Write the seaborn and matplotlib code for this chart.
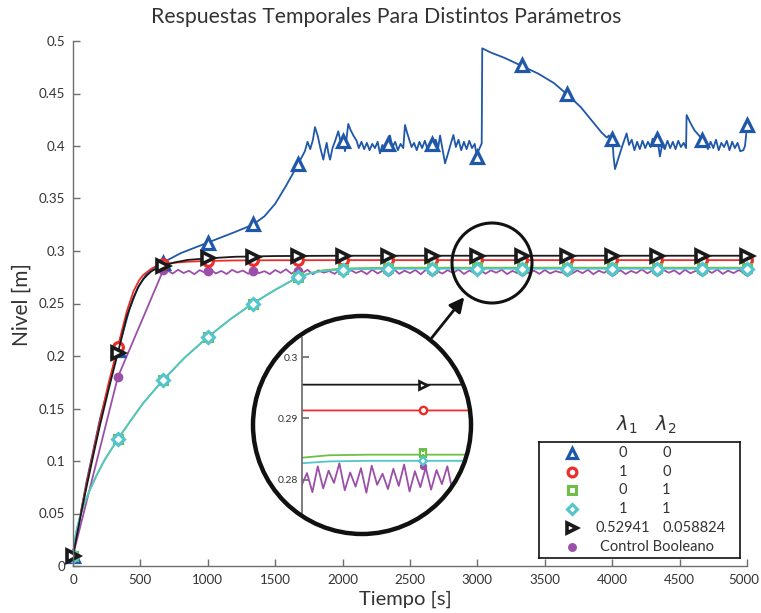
import numpy as np
import pandas as pd
import matplotlib
matplotlib.use("Agg")
from matplotlib import pyplot as plt
from matplotlib.patches import Circle, FancyArrowPatch
from matplotlib.transforms import ScaledTranslation
import seaborn as sns

# marker sample times (every 1000/3 s)
t_mark = [0, 333.3, 666.7, 1000, 1333.3, 1666.7, 2000, 2333.3, 2666.7, 3000,
          3333.3, 3666.7, 4000, 4333.3, 4666.7, 5000]

# lambda1=0, lambda2=0 (blue)
t_blue = [0, 50, 100, 200, 333, 420, 480, 550, 620, 667, 800, 1000, 1200, 1333, 1420, 1500,
          1580, 1667, 1720, 1740, 1760, 1780, 1795, 1815, 1835, 1857, 1870, 1882, 1895, 1907,
          1925, 1945, 1968, 1985, 2000, 2018, 2042, 2060, 2080, 2104, 2120, 2140, 2160, 2180,
          2200, 2220, 2240, 2260, 2277, 2295, 2315, 2335, 2351, 2370, 2390, 2410, 2430, 2450,
          2463, 2480, 2500, 2512, 2530, 2550, 2570, 2590, 2610, 2630, 2650, 2670, 2690, 2710,
          2723, 2740, 2760, 2780, 2800, 2822, 2840, 2860, 2880, 2900, 2920, 2940, 2960, 2980,
          2995, 3010, 3032, 3036, 3100, 3200, 3333, 3450, 3567, 3667, 3767, 3850, 3920, 3960,
          3975, 3990, 4000, 4010, 4021, 4050, 4080, 4107, 4125, 4145, 4165, 4185, 4205, 4225,
          4245, 4265, 4285, 4300, 4320, 4333, 4354, 4370, 4390, 4410, 4430, 4450, 4470, 4490,
          4510, 4530, 4548, 4552, 4580, 4610, 4651, 4670, 4690, 4710, 4730, 4750, 4770, 4790,
          4810, 4830, 4850, 4870, 4890, 4910, 4930, 4950, 4973, 4985, 5000]
v_blue = [0.01, 0.045, 0.08, 0.14, 0.205, 0.245, 0.265, 0.279, 0.286, 0.289, 0.298, 0.308, 0.318, 0.325, 0.333, 0.345,
          0.362, 0.382, 0.395, 0.404, 0.397, 0.406, 0.418, 0.41, 0.398, 0.387, 0.396, 0.403, 0.393, 0.387,
          0.398, 0.405, 0.414, 0.404, 0.408, 0.395, 0.421, 0.415, 0.41, 0.405, 0.398, 0.404, 0.397, 0.403,
          0.396, 0.402, 0.398, 0.404, 0.393, 0.401, 0.397, 0.405, 0.41, 0.399, 0.404, 0.396, 0.402, 0.398,
          0.42, 0.412, 0.404, 0.399, 0.403, 0.396, 0.404, 0.398, 0.405, 0.397, 0.403, 0.398, 0.406, 0.399,
          0.41, 0.398, 0.3835, 0.392, 0.401, 0.4105, 0.399, 0.406, 0.396, 0.404, 0.397, 0.405, 0.398, 0.402,
          0.391, 0.396, 0.4025, 0.493, 0.489, 0.484, 0.476, 0.469, 0.46, 0.449, 0.437, 0.424, 0.413, 0.408,
          0.41, 0.404, 0.409, 0.39, 0.378, 0.39, 0.402, 0.412, 0.401, 0.406, 0.396, 0.404, 0.397, 0.405,
          0.398, 0.404, 0.399, 0.407, 0.401, 0.409, 0.39, 0.401, 0.397, 0.405, 0.398, 0.404, 0.397, 0.405,
          0.399, 0.403, 0.398, 0.4295, 0.422, 0.415, 0.409, 0.399, 0.405, 0.397, 0.404, 0.398, 0.406, 0.396,
          0.403, 0.399, 0.405, 0.396, 0.404, 0.398, 0.403, 0.395, 0.396, 0.4, 0.418]
m_blue = [0.01, 0.206, 0.289, 0.308, 0.326, 0.383, 0.405, 0.402, 0.402, 0.390,
          0.477, 0.450, 0.407, 0.407, 0.406, 0.420]

# red (1, 0) and black (0.52941, 0.058824)
t_fast = [0, 30, 60, 100, 150, 200, 260, 333, 400, 450, 490, 520, 550, 580, 620, 667,
          750, 850, 1000, 1200, 1500, 2000, 5000]
v_red = [0.01, 0.032, 0.052, 0.078, 0.108, 0.138, 0.172, 0.209, 0.243, 0.262, 0.272, 0.277,
         0.280, 0.283, 0.2855, 0.2872, 0.2888, 0.2898, 0.2905, 0.291, 0.2912, 0.2913, 0.2913]
v_black = [0.01, 0.03, 0.05, 0.075, 0.105, 0.134, 0.166, 0.203, 0.238, 0.256, 0.267, 0.273,
           0.277, 0.2805, 0.2835, 0.286, 0.289, 0.2915, 0.293, 0.2945, 0.2952, 0.2955, 0.2955]
m_red = [0.01, 0.209, 0.2872, 0.2905, 0.291, 0.2912, 0.2913, 0.2913, 0.2913, 0.2913,
         0.2913, 0.2913, 0.2913, 0.2913, 0.2913, 0.2913]
m_black = [0.01, 0.203, 0.286, 0.293, 0.2945, 0.2952, 0.2955, 0.2955, 0.2955, 0.2955,
           0.2955, 0.2955, 0.2955, 0.2955, 0.2955, 0.2955]

# green (0, 1) and cyan (1, 1)
t_slow = [0, 10, 25, 50, 80, 120, 170, 230, 333, 420, 520, 667, 833, 1000, 1167, 1333,
          1500, 1667, 1760, 1850, 1950, 2100, 2300, 2600, 3000, 5000]
v_green = [0.01, 0.022, 0.033, 0.046, 0.058, 0.071, 0.085, 0.1, 0.121, 0.137, 0.155, 0.177,
           0.199, 0.218, 0.235, 0.25, 0.263, 0.275, 0.279, 0.2815, 0.2828, 0.2836, 0.284,
           0.2841, 0.2841, 0.2841]
v_cyan = [0.01, 0.022, 0.033, 0.046, 0.058, 0.071, 0.085, 0.1, 0.121, 0.137, 0.155, 0.177,
          0.199, 0.218, 0.235, 0.25, 0.263, 0.275, 0.2787, 0.2808, 0.282, 0.2827, 0.283,
          0.2831, 0.2831, 0.2831]
m_green = [0.01, 0.121, 0.177, 0.218, 0.25, 0.275, 0.2828, 0.284, 0.2841, 0.2843,
           0.2841, 0.2841, 0.2841, 0.2841, 0.2841, 0.2841]
m_cyan = [0.01, 0.121, 0.177, 0.218, 0.25, 0.275, 0.282, 0.283, 0.2831, 0.2831,
          0.2831, 0.2831, 0.2831, 0.2831, 0.2831, 0.2831]

# control booleano (purple)
t_bool_start = [0, 333, 667]
v_bool_start = [0.01, 0.18, 0.281]
t_bool = np.arange(700, 5001, 40)
v_bool = [0.2815, 0.2785, 0.2822, 0.2790, 0.2812, 0.2779, 0.2818, 0.2793, 0.2825, 0.2786,
          0.2810, 0.2781, 0.2820, 0.2795, 0.2814, 0.2783, 0.2823, 0.2789, 0.2808, 0.2780,
          0.2819, 0.2792, 0.2826, 0.2784, 0.2813, 0.2788, 0.2821, 0.2778, 0.2816, 0.2794,
          0.2809, 0.2782, 0.2824, 0.2787, 0.2817, 0.2791, 0.2811, 0.2780, 0.2822, 0.2786,
          0.2815, 0.2795, 0.2827, 0.2783, 0.2812, 0.2789, 0.2819, 0.2779, 0.2823, 0.2792,
          0.2810, 0.2785, 0.2818, 0.2790, 0.2825, 0.2781, 0.2814, 0.2788, 0.2820, 0.2784,
          0.2816, 0.2793, 0.2822, 0.2780, 0.2811, 0.2787, 0.2824, 0.2791, 0.2813, 0.2782,
          0.2819, 0.2786, 0.2809, 0.2794, 0.2826, 0.2783, 0.2815, 0.2789, 0.2821, 0.2779,
          0.2812, 0.2792, 0.2823, 0.2785, 0.2817, 0.2781, 0.2810, 0.2790, 0.2825, 0.2787,
          0.2814, 0.2784, 0.2820, 0.2793, 0.2816, 0.2780, 0.2822, 0.2788, 0.2811, 0.2786,
          0.2818, 0.2791, 0.2824, 0.2782, 0.2813, 0.2789, 0.2819, 0.2785]
m_bool = [0.01, 0.18, 0.2815, 0.2808, 0.2808, 0.2812, 0.2808, 0.281, 0.2808, 0.2822,
          0.281, 0.281, 0.281, 0.281, 0.281, 0.2812]

legend_l1 = ["0", "1", "0", "1", "0.52941"]
legend_l2 = ["0", "0", "1", "1", "0.058824"]

c_blue = "#1f58a8"
c_red = "#ec2d2a"
c_green = "#6dbf47"
c_cyan = "#52c6cc"
c_black = "#1a1a1a"
c_purple = "#9c4fa9"

sns.set_theme(style="ticks")
plt.rcParams['font.family'] = ['Lato', 'DejaVu Sans']
txt = "#333333"
gray = "#6e6e6e"

W, H = 761, 613
fig = plt.figure(figsize=(W / 100, H / 100), dpi=100)
fig.patch.set_facecolor("white")
ax = fig.add_axes([73 / W, 47 / H, 674 / W, 525 / H])

bool_t = list(t_bool_start) + list(t_bool)
bool_v = list(v_bool_start) + list(v_bool)

lines = [
    (bool_t, bool_v, c_purple),
    (t_blue, v_blue, c_blue),
    (t_fast, v_red, c_red),
    (t_slow, v_green, c_green),
    (t_slow, v_cyan, c_cyan),
    (t_fast, v_black, c_black),
]
# values, colour, marker, size, face, edge width
marks = [
    (m_bool, c_purple, "o", 6.0, c_purple, 1.0),
    (m_blue, c_blue, "^", 8.5, "white", 2.3),
    (m_red, c_red, "o", 7.0, "white", 2.3),
    (m_green, c_green, "s", 5.8, "white", 2.2),
    (m_cyan, c_cyan, "D", 5.8, "white", 2.2),
    (m_black, c_black, ">", 8.0, "white", 2.6),
]


def draw(a, only=None, scale=1.0):
    for (tx, vy, c), (mv, mc, mk, ms, fc, mw) in zip(lines, marks):
        sns.lineplot(x=tx, y=vy, ax=a, color=c, lw=1.3, estimator=None, sort=False)
        idx = range(len(t_mark)) if only is None else [only]
        a.plot([t_mark[i] for i in idx], [mv[i] for i in idx], ls="none", marker=mk,
               ms=ms * scale, mfc=fc, mec=mc, mew=mw * scale, clip_on=only is not None)


draw(ax)
ax.set_xlim(0, 5000)
ax.set_ylim(0, 0.5)
ax.set_xticks(np.arange(0, 5001, 500))
ax.set_yticks(np.arange(0, 0.501, 0.05))
ax.set_yticklabels([f"{v:g}" for v in np.arange(0, 0.501, 0.05).round(2)])
ax.set_xlabel("")
ax.set_ylabel("")
for s in ["top", "right"]:
    ax.spines[s].set_visible(False)
for s in ["left", "bottom"]:
    ax.spines[s].set_color(gray)
    ax.spines[s].set_linewidth(1.0)
ax.tick_params(direction="in", length=5, width=1, color=gray, labelcolor=txt,
               labelsize=9.6)
ax.tick_params(axis="x", pad=6)
ax.tick_params(axis="y", pad=5.5)
# last x label sits slightly inside the figure, as in the original
last = ax.get_xticklabels()[-1]
last.set_transform(last.get_transform() + ScaledTranslation(-0.03, 0, fig.dpi_scale_trans))

fig.text(386 / W, 1 - 17 / H, "Respuestas Temporales Para Distintos Parámetros",
         ha="center", va="center", fontsize=15.3, color=txt)
fig.text(22 / W, 1 - 305 / H, "Nivel [m]", rotation=90, ha="center", va="center",
         fontsize=15, color=txt)
fig.text(405 / W, 1 - 599 / H, "Tiempo [s]", ha="center", va="center",
         fontsize=14.5, color=txt)

# zoom inset
inch = fig.dpi_scale_trans
cx, cy, r = 3.62, (H - 425) / 100, 1.09
bg = Circle((cx, cy), r, transform=inch, facecolor="white", edgecolor="none", zorder=1)
fig.add_artist(bg)
axin = fig.add_axes([302 / W, (H - 513) / H, 170 / W, 175 / H], zorder=2)
axin.patch.set_alpha(0)
draw(axin, only=9, scale=0.75)
clip = Circle((cx, cy), r - 0.02, transform=inch)
for ln in axin.lines:
    ln.set_clip_path(clip)
axin.set_xlim(2103, 3363)
axin.set_ylim(0.2746, 0.3031)
axin.set_xticks([])
axin.set_yticks([0.28, 0.29, 0.3])
axin.set_yticklabels(["0.28", "0.29", "0.3"])
for s in ["top", "right", "bottom"]:
    axin.spines[s].set_visible(False)
axin.spines["left"].set_color(gray)
axin.tick_params(direction="in", length=5, color=gray, labelcolor=txt, labelsize=7.5, pad=3)
axin.set_xlabel("")
axin.set_ylabel("")

fig.add_artist(Circle((cx, cy), r, transform=inch, facecolor="none", edgecolor="#111111",
                      lw=3.2, zorder=3))
fig.add_artist(Circle((4.92, (H - 263) / 100), 0.40, transform=inch, facecolor="none",
                      edgecolor="#111111", lw=2.2, zorder=3))
fig.add_artist(FancyArrowPatch((4.30, (H - 340) / 100), (4.66, (H - 295) / 100),
                               transform=inch, arrowstyle="-|>", mutation_scale=22,
                               lw=2, color="#111111", zorder=3))

# legend box
lg = fig.add_axes([539 / W, (H - 558) / H, 201 / W, 116 / H], zorder=4)
lg.set_xlim(0, 1)
lg.set_ylim(0, 1)
lg.set_xticks([])
lg.set_yticks([])
lg.set_facecolor("white")
for s in lg.spines.values():
    s.set_color("#111111")
    s.set_linewidth(1.2)
rows = [0.905, 0.741, 0.586, 0.422, 0.259, 0.095]
order = [1, 2, 3, 4, 5, 0]
for k, y in enumerate(rows):
    mv, mc, mk, ms, fc, mw = marks[order[k]]
    lg.plot([0.164], [y], ls="none", marker=mk, ms=ms * 0.9, mfc=fc, mec=mc, mew=mw)
    if k < 5:
        lg.text(0.418, y, legend_l1[k], ha="center", va="center", fontsize=10.5, color=txt)
        lg.text(0.612, y, legend_l2[k], ha="left", va="center", fontsize=10.5, color=txt)
    else:
        lg.text(0.303, y, "Control Booleano", ha="left", va="center", fontsize=10.5, color=txt)
fig.text(627 / W, 1 - 425 / H, r"$\lambda_1$", ha="center", va="center", fontsize=14, color=txt)
fig.text(666 / W, 1 - 425 / H, r"$\lambda_2$", ha="center", va="center", fontsize=14, color=txt)

fig.savefig("out.png", dpi=100)
